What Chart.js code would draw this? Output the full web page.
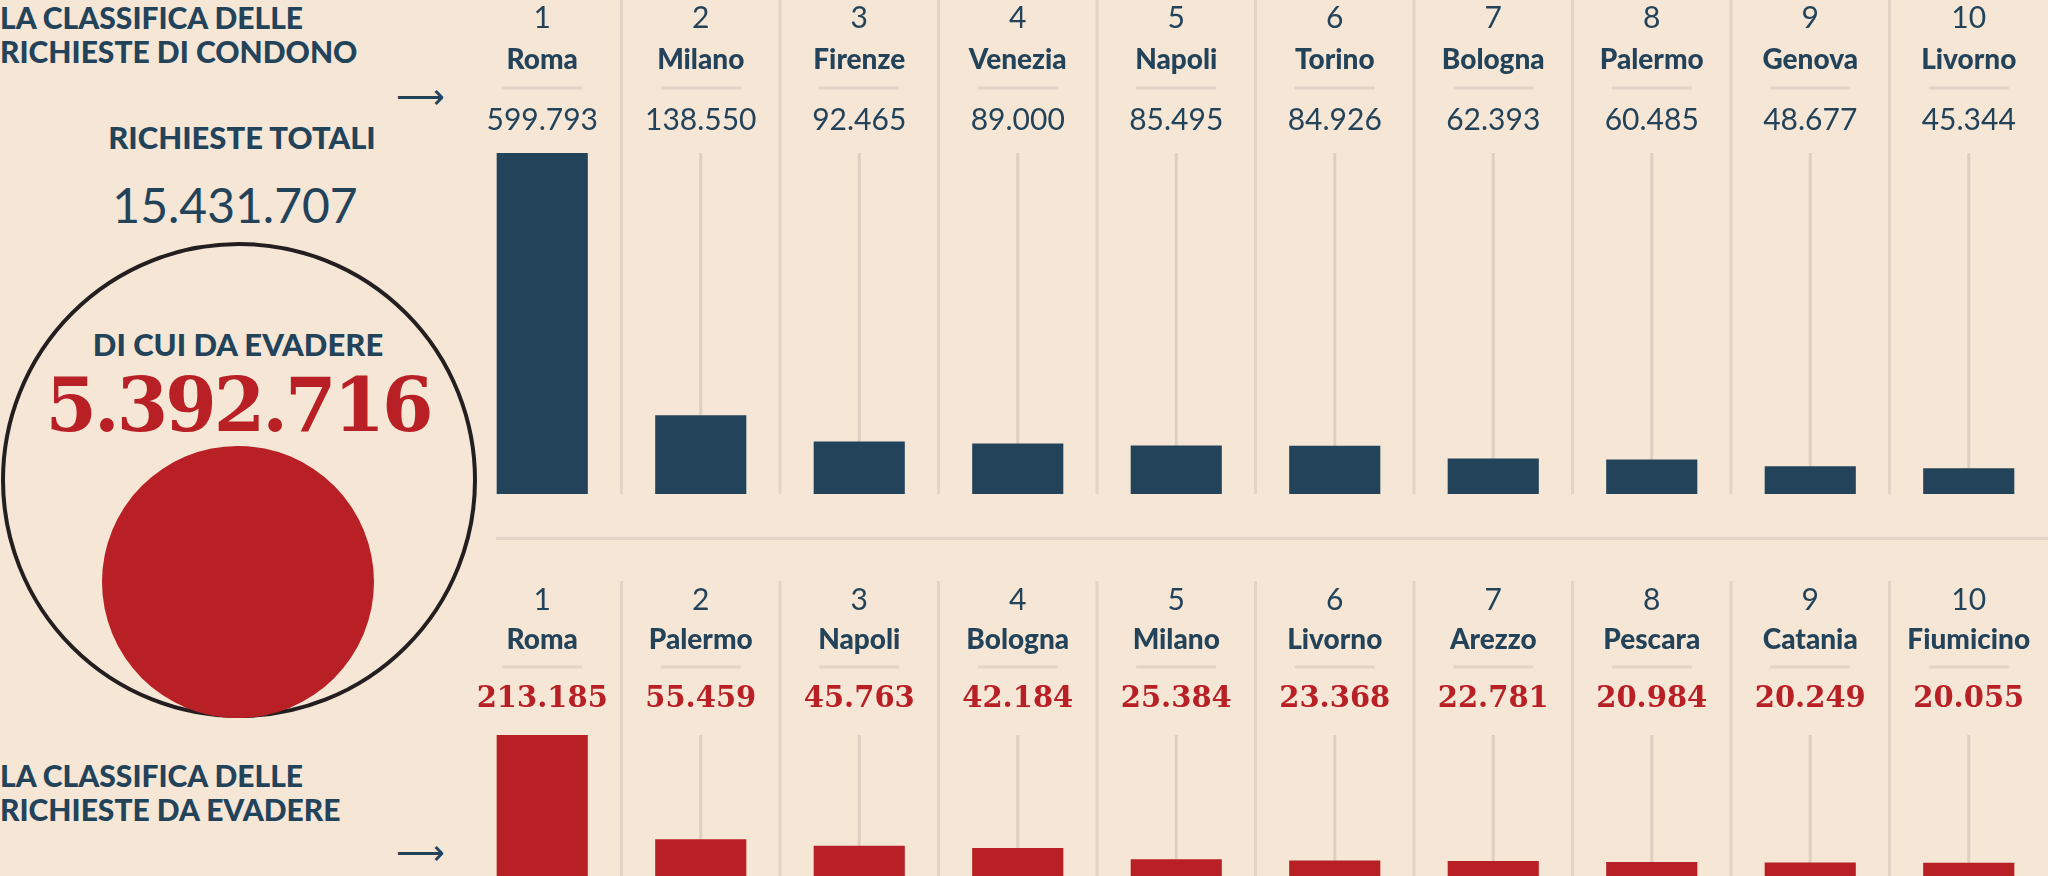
<!DOCTYPE html>
<html><head><meta charset="utf-8">
<script src="https://cdn.jsdelivr.net/npm/chart.js@4"></script>
<style>
body{margin:0;width:2048px;height:876px;background:#f5e6d6;overflow:hidden;position:relative;font-family:Lato,"Open Sans",sans-serif;color:#23435a}
.t{position:absolute;white-space:nowrap}
canvas{position:absolute}
</style></head><body>
<div class="t" style="left:0;top:0;font-size:30px;font-weight:900;line-height:34px">LA CLASSIFICA DELLE<br>RICHIESTE DI CONDONO</div>
<div class="t" style="left:396px;top:74px;font-size:34px">⟶</div>
<div class="t" style="left:0;width:484px;text-align:center;top:118px;font-size:31px;font-weight:900">RICHIESTE TOTALI</div>
<div class="t" style="left:0;width:470px;text-align:center;top:176px;font-size:48px">15.431.707</div>
<div class="t" style="left:1px;top:242px;width:468px;height:468px;border:4px solid #231f20;border-radius:50%"></div>
<div class="t" style="left:0;width:476px;text-align:center;top:325px;font-size:31px;font-weight:900">DI CUI DA EVADERE</div>
<div class="t" style="left:0;width:476px;text-align:center;top:362px;font-size:74px;font-weight:700;color:#b82025;font-family:'DejaVu Serif',serif;letter-spacing:-3px">5.392.716</div>
<div class="t" style="left:102px;top:446px;width:272px;height:272px;background:#b82025;border-radius:50%"></div>
<div class="t" style="left:0;top:758px;font-size:30px;font-weight:900;line-height:34px">LA CLASSIFICA DELLE<br>RICHIESTE DA EVADERE</div>
<div class="t" style="left:396px;top:830px;font-size:34px">⟶</div>
<div style="position:absolute;left:496px;right:0;top:537px;height:3px;background:#e2d4c6"></div>
<canvas id="top" style="left:463px;top:0" width="1585" height="494"></canvas>
<canvas id="bot" style="left:463px;top:540px" width="1585" height="336"></canvas>
<script>
// classifica richieste totali
const cittaTot = ['Roma','Milano','Firenze','Venezia','Napoli','Torino','Bologna','Palermo','Genova','Livorno'];
const valoriTot = [599793,138550,92465,89000,85495,84926,62393,60485,48677,45344];
// classifica richieste da evadere
const cittaEva = ['Roma','Palermo','Napoli','Bologna','Milano','Livorno','Arezzo','Pescara','Catania','Fiumicino'];
const valoriEva = [213185,55459,45763,42184,25384,23368,22781,20984,20249,20055];

function fmt(n){ return n.toString().replace(/\B(?=(\d{3})+(?!\d))/g,'.'); }

function labelsPlugin(cfg){
  return {
    id:'etichette',
    beforeDatasetsDraw(chart){
      const c = chart.ctx, x = chart.scales.x, a = chart.chartArea, n = chart.data.labels.length;
      const w = (a.right - a.left) / n;
      c.save();
      c.strokeStyle = '#e2d4c6'; c.lineWidth = 3;
      for (let i = 1; i < n; i++) {
        const sx = a.left + i * w;
        c.beginPath(); c.moveTo(sx, cfg.sepTop); c.lineTo(sx, a.bottom); c.stroke();
      }
      c.strokeStyle = '#ddd0c3'; c.lineWidth = 3;
      for (let i = 0; i < n; i++) {
        const cx = x.getPixelForValue(i);
        c.beginPath(); c.moveTo(cx, a.top); c.lineTo(cx, a.bottom); c.stroke();
      }
      c.restore();
    },
    afterDatasetsDraw(chart){
      const c = chart.ctx, x = chart.scales.x, d = chart.data;
      c.save(); c.textAlign = 'center'; c.textBaseline = 'middle';
      d.labels.forEach((lab, i) => {
        const cx = x.getPixelForValue(i);
        c.fillStyle = '#23435a';
        c.font = '30px Lato'; c.fillText(String(i + 1), cx, cfg.rank);
        c.font = '900 28px Lato'; c.fillText(lab, cx, cfg.city);
        c.strokeStyle = '#e2d4c6'; c.lineWidth = 3;
        c.beginPath(); c.moveTo(cx - 40, cfg.line); c.lineTo(cx + 40, cfg.line); c.stroke();
        c.fillStyle = cfg.valColor; c.font = cfg.valFont;
        c.fillText(fmt(d.datasets[0].data[i]), cx, cfg.val);
      });
      c.restore();
    }
  };
}

function crea(id, labels, data, color, pad, cfg){
  new Chart(document.getElementById(id), {
    type:'bar',
    data:{ labels: labels, datasets:[{ data: data, backgroundColor: color, barPercentage:0.575, categoryPercentage:1 }] },
    options:{
      responsive:false, animation:false,
      layout:{ padding:{ top: pad, left:0, right:0, bottom:0 } },
      plugins:{ legend:{display:false}, tooltip:{enabled:false} },
      scales:{
        x:{ display:false },
        y:{ display:false, min:0, max: Math.max(...data) }
      }
    },
    plugins:[labelsPlugin(cfg)]
  });
}

crea('top', cittaTot, valoriTot, '#23435a', 153,
  { sepTop:0, rank:18, city:60, line:88, val:120, valColor:'#23435a', valFont:'30px Lato' });
crea('bot', cittaEva, valoriEva, '#b82025', 195,
  { sepTop:41, rank:60, city:100, line:127, val:159, valColor:'#b82025', valFont:'bold 29px "DejaVu Serif"' });
</script>
</body></html>
